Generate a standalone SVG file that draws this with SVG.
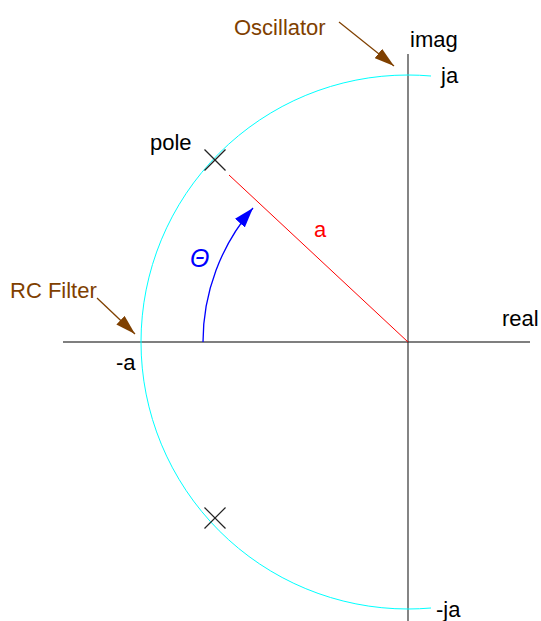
<svg xmlns="http://www.w3.org/2000/svg" width="541" height="621" viewBox="0 0 541 621">
<defs>
<style>
text{font-family:"Liberation Sans",Arial,sans-serif;font-size:22px;fill:#000}
.note{fill:#7f4000}
.axis{stroke:#555;stroke-width:1.3;fill:none}
.cross{stroke:#222;stroke-width:1.2}
</style>
<marker id="brownArrow" viewBox="0 0 20 12" refX="20" refY="6" markerWidth="20" markerHeight="12" markerUnits="userSpaceOnUse" orient="auto">
<path d="M0,0 L20,6 L0,12 Z" fill="#7f4000"/>
</marker>
<marker id="blueArrow" viewBox="0 0 20 13" refX="20" refY="6.5" markerWidth="20" markerHeight="13" markerUnits="userSpaceOnUse" orient="auto">
<path d="M0,0 L20,6.5 L0,13 Z" fill="#0000ff"/>
</marker>
</defs>
<rect width="541" height="621" fill="#fff"/>
<g id="connectors">
<line class="axis" x1="63" y1="342" x2="530" y2="342"/>
<line x1="408" y1="54" x2="408" y2="621" stroke="#333" stroke-width="1.2"/>
<path d="M431,76 A267,267 0 0 0 408,75 A267,267 0 0 0 408,609 A267,267 0 0 0 431,608" fill="none" stroke="#00ffff" stroke-width="1"/>
<line x1="408" y1="342" x2="229" y2="175" stroke="#ff0000" stroke-width="1"/>
<path d="M203,342 A205,205 0 0 1 253,208" fill="none" stroke="#0000ff" stroke-width="1.3" marker-end="url(#blueArrow)"/>
<line x1="339" y1="22" x2="394" y2="66" stroke="#7f4000" stroke-width="1.3" marker-end="url(#brownArrow)"/>
<line x1="97" y1="298" x2="135" y2="334" stroke="#7f4000" stroke-width="1.3" marker-end="url(#brownArrow)"/>
</g>
<g id="pole-upper">
<line class="cross" x1="204.5" y1="149.5" x2="225.5" y2="170.5"/>
<line class="cross" x1="225.5" y1="149.5" x2="204.5" y2="170.5"/>
</g>
<g id="pole-lower">
<line class="cross" x1="204.5" y1="507.5" x2="225.5" y2="528.5"/>
<line class="cross" x1="225.5" y1="507.5" x2="204.5" y2="528.5"/>
</g>
<g id="labels">
<text class="note" x="234" y="35">Oscillator</text>
<text x="410" y="47">imag</text>
<text x="441" y="83">ja</text>
<text x="150" y="150">pole</text>
<text x="314" y="237" style="fill:#ff0000">a</text>
<text x="190" y="267" style="fill:#0000ff;font-style:italic;font-size:25px">Θ</text>
<text class="note" x="10" y="298">RC Filter</text>
<text x="116" y="370">-a</text>
<text x="502" y="326">real</text>
<text x="436" y="617">-ja</text>
</g>
</svg>
